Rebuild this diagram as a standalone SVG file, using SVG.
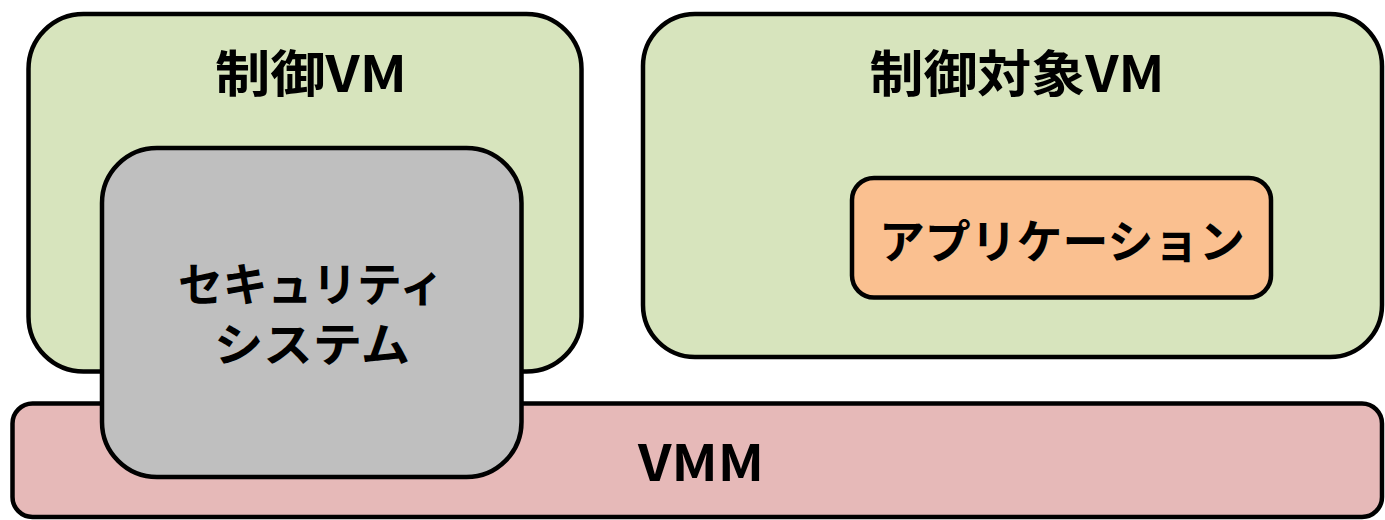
<svg xmlns="http://www.w3.org/2000/svg" width="1385" height="520" viewBox="0 0 1385 520">
  <style>
    .box { stroke: #000; stroke-width: 4.5; }
    .vm { fill: #d7e4bd; }
    .vmm { fill: #e6b9b8; }
    .sec { fill: #bfbfbf; }
    .app { fill: #fac090; }
    .title { font-family: "Noto Sans CJK JP", "Noto Sans", sans-serif; font-weight: bold; font-size: 50px; fill: #000; text-anchor: middle; }
    .label { font-family: "Noto Sans CJK JP", "Noto Sans", sans-serif; font-weight: bold; font-size: 46px; fill: #000; text-anchor: middle; }
  </style>

  <!-- control VM -->
  <g id="control-vm">
    <rect class="box vm" x="28.5" y="14" width="553" height="357.5" rx="55"/>
    <text class="title" x="311" y="92" textLength="192" lengthAdjust="spacingAndGlyphs">制御VM</text>
  </g>

  <!-- controlled VM -->
  <g id="target-vm">
    <rect class="box vm" x="643" y="14" width="739" height="343" rx="52"/>
    <text class="title" x="1017" y="92" textLength="295" lengthAdjust="spacingAndGlyphs">制御対象VM</text>
  </g>

  <!-- hypervisor layer -->
  <g id="vmm">
    <rect class="box vmm" x="12.5" y="403.5" width="1369.5" height="113.5" rx="20"/>
    <text class="title" x="701" y="481" textLength="126" lengthAdjust="spacingAndGlyphs">VMM</text>
  </g>

  <!-- security system, overlapping control VM and VMM -->
  <g id="security-system">
    <rect class="box sec" x="102" y="148" width="419.5" height="329" rx="55"/>
    <text class="label" x="311" y="301" textLength="266" lengthAdjust="spacingAndGlyphs">セキュリティ</text>
    <text class="label" x="312" y="361" textLength="196" lengthAdjust="spacingAndGlyphs">システム</text>
  </g>

  <!-- application inside controlled VM -->
  <g id="application">
    <rect class="box app" x="852" y="178" width="419" height="119.5" rx="22"/>
    <text class="label" x="1062" y="258" textLength="366" lengthAdjust="spacingAndGlyphs">アプリケーション</text>
  </g>
</svg>
